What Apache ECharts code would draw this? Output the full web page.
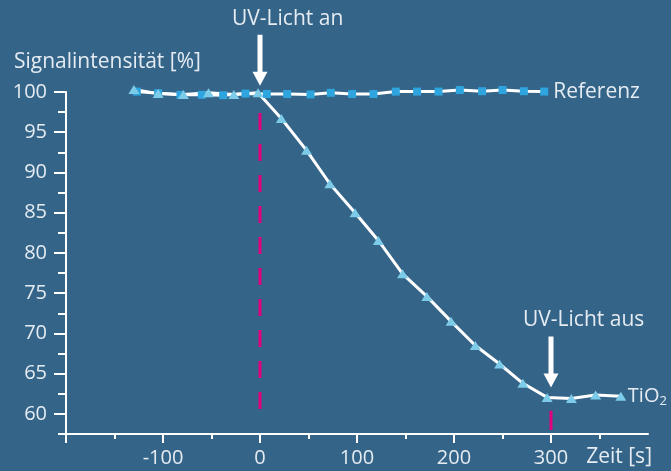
<!DOCTYPE html>
<html>
<head>
<meta charset="utf-8">
<script src="https://cdn.jsdelivr.net/npm/echarts@6/dist/echarts.min.js"></script>
<style>
html,body{margin:0;padding:0;background:#356489;}
#c{width:671px;height:471px;}
</style>
</head>
<body>
<div id="c"></div>
<script>
// Data
const timeTi = [-130,-105,-79,-53,-27,-2,22,48,72,98,122,147,172,197,222,247,271,296,321,346,372];
const valTi  = [100.3,99.8,99.7,99.9,99.7,99.9,96.7,92.75,88.6,85.0,81.55,77.4,74.6,71.5,68.5,66.2,63.8,62.05,61.9,62.35,62.2];
const timeRef = [-127,-105,-82,-60,-38,-15,7,28,52,73,95,117,140,162,184,206,229,250,272,293];
const valRef  = [100.05,99.85,99.65,99.65,99.6,99.8,99.75,99.75,99.7,99.9,99.75,99.75,100.05,100.05,100.05,100.25,100.1,100.25,100.1,100.05];
const xLabels = [-100,0,100,200,300];
const xMajorTicks = [-200,-100,0,100,200,300];
const xMinorTicks = [-150,-50,50,150,250,350];
const yLabels = [60,65,70,75,80,85,90,95,100];
const yMinorTicks = [57.5,62.5,67.5,72.5,77.5,82.5,87.5,92.5,97.5];
const uvOn = 0, uvOff = 300;
const uvOnLine = [97.4, 59.0];
const uvOffLine = [60.4, 58.0];
const labelsText = {y:'Signalintensität [%]', x:'Zeit [s]', on:'UV-Licht an', off:'UV-Licht aus', ref:'Referenz'};

const TXT = '#e4ecf2';
const FONT = 'Open Sans';
const FS = 20;   // tick labels
const FT = 21;   // annotation texts
const chart = echarts.init(document.getElementById('c'), null, {renderer:'canvas'});

const baseX = {type:'value', min:-200, max:400, position:'bottom',
  axisLine:{show:true, onZero:false, lineStyle:{color:'#ffffff', width:2}},
  splitLine:{show:false}};
const baseY = {type:'value', min:57.5, max:100, position:'left',
  axisLine:{show:true, onZero:false, lineStyle:{color:'#ffffff', width:2}},
  splitLine:{show:false}};

const option = {
  backgroundColor:'#356489',
  animation:false,
  textStyle:{fontFamily:FONT},
  grid:{left:66, right:23, top:92, bottom:37, containLabel:false},
  xAxis:[
    Object.assign({}, baseX, {
      axisTick:{show:true, customValues:xMajorTicks, length:9, lineStyle:{color:'#fff', width:2}},
      axisLabel:{show:true, customValues:xLabels, margin:14, color:TXT, fontSize:FS, fontFamily:FONT}
    }),
    Object.assign({}, baseX, {
      axisLine:{show:false, onZero:false},
      axisTick:{show:true, customValues:xMinorTicks, length:5, lineStyle:{color:'#fff', width:2}},
      axisLabel:{show:false}
    })
  ],
  yAxis:[
    Object.assign({}, baseY, {
      name:labelsText.y, nameLocation:'end', nameGap:19,
      nameTextStyle:{color:TXT, fontSize:FT, fontFamily:FONT, align:'left', padding:[0,0,0,-52]},
      axisTick:{show:true, customValues:yMinorTicks, length:8, lineStyle:{color:'#fff', width:2}},
      axisLabel:{show:true, customValues:yLabels, margin:19, color:TXT, fontSize:FS, fontFamily:FONT}
    }),
    Object.assign({}, baseY, {
      axisLine:{show:false, onZero:false},
      axisTick:{show:true, customValues:yLabels, length:12, lineStyle:{color:'#fff', width:2}},
      axisLabel:{show:false}
    })
  ],
  series:[
    {type:'line', silent:true, symbol:'none', data:uvOnLine.map(v=>[uvOn,v]),
      lineStyle:{color:'#e4007c', width:3, type:[17,14]}},
    {type:'line', silent:true, symbol:'none', data:uvOffLine.map(v=>[uvOff,v]),
      lineStyle:{color:'#e4007c', width:3}},
    {type:'line', name:'Referenz', clip:false, data:timeRef.map((t,i)=>[t,valRef[i]]),
      symbol:'rect', symbolSize:8, itemStyle:{color:'#2ea5de'},
      lineStyle:{color:'#ffffff', width:3},
      endLabel:{show:true, formatter:labelsText.ref, color:TXT, fontSize:FT, fontFamily:FONT, distance:9}},
    {type:'line', name:'TiO2', clip:false, data:timeTi.map((t,i)=>[t,valTi[i]]),
      symbol:'triangle', symbolSize:[11,9], itemStyle:{color:'#7ccbe8'},
      lineStyle:{color:'#ffffff', width:3},
      endLabel:{show:true, formatter:'TiO{s|2}', color:TXT, fontSize:FT-1, fontFamily:FONT, distance:7,
        rich:{s:{fontSize:13, color:TXT, fontFamily:FONT, padding:[10,0,0,0]}}}}
  ]
};
chart.setOption(option);

function arrow(xVal, yVal, tipOffset, text){
  const p = chart.convertToPixel({xAxisIndex:0, yAxisIndex:0}, [xVal, yVal]);
  const ax = p[0], tip = p[1] - tipOffset;
  return [
    {type:'polygon', silent:true, shape:{points:[
      [ax-2.5, tip-51],[ax+2.5, tip-51],[ax+2.5, tip-14],[ax+7.5, tip-14],
      [ax, tip],[ax-7.5, tip-14],[ax-2.5, tip-14]]},
      style:{fill:'#ffffff'}},
    {type:'text', silent:true, x:ax-28, y:tip-67,
      style:{text:text, fill:TXT, font:FT + 'px "Open Sans"', textAlign:'left', textVerticalAlign:'middle'}}
  ];
}
const onIdx = timeTi.indexOf(-2);
const offIdx = timeTi.indexOf(296);
chart.setOption({graphic:[
  ...arrow(uvOn, valTi[onIdx], 7, labelsText.on),
  ...arrow(uvOff, valTi[offIdx], 10, labelsText.off),
  {type:'text', silent:true, right:19, bottom:3,
    style:{text:labelsText.x, fill:TXT, font:FT + 'px "Open Sans"'}}
]});
</script>
</body>
</html>
